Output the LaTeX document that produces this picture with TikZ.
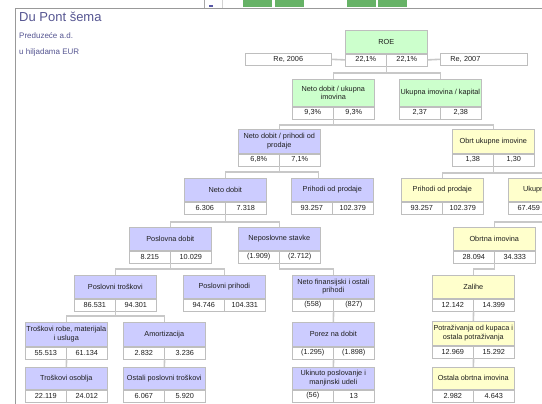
\documentclass[tikz,border=0pt]{standalone}
\usepackage{fontspec}
\setmainfont{Liberation Sans}
\definecolor{hgreen}{RGB}{204,255,204}
\definecolor{hpurple}{RGB}{204,204,255}
\definecolor{hyellow}{RGB}{255,255,204}
\definecolor{boxgray}{RGB}{190,190,190}
\definecolor{linegray}{RGB}{200,200,200}
\definecolor{txtgray}{RGB}{30,30,30}
\definecolor{titleblue}{RGB}{85,85,145}
\definecolor{topgreen}{RGB}{102,178,102}
\begin{document}
\begin{tikzpicture}[x=1pt, y=-1pt,
		hdr/.style={draw=boxgray, line width=.6pt, minimum width=82pt, minimum height=23pt, inner sep=1pt, anchor=north west, align=center, text=txtgray, font=\fontsize{7.3}{8.6}\selectfont},
		val/.style={draw=boxgray, line width=.6pt, fill=white, minimum width=41pt, minimum height=12pt, inner sep=0pt, text=txtgray, font=\fontsize{7.3}{8.6}\selectfont},
		conn/.style={draw=linegray, line width=1.6pt}]
		\useasboundingbox (0,0) rectangle (542,404);
		\clip (0,0) rectangle (542,404);
		% window
		\fill[topgreen] (243,0) rectangle (272,7.5);
		\fill[topgreen] (275,0) rectangle (304,7.5);
		\fill[topgreen] (347,0) rectangle (376,7.5);
		\fill[topgreen] (378,0) rectangle (407,7.5);
		\draw[gray!70] (204,0) -- (204,9);
		\draw[gray!35] (222,0) -- (222,9);
		\fill[blue!30!gray] (209,5) rectangle (213,7.5);
		\draw[gray!80, line width=1pt] (15,404) -- (15,9) -- (542,9);
		\node[anchor=base west, text=titleblue, font=\fontsize{13}{15}\selectfont, inner sep=0pt] (title) at (19,22) {Du Pont šema};
		\node[anchor=base west, text=titleblue, font=\fontsize{8}{9}\selectfont, inner sep=0pt] (firm) at (19,39) {Preduzeće a.d.};
		\node[anchor=base west, text=titleblue, font=\fontsize{8}{9}\selectfont, inner sep=0pt] (unit) at (19,55) {u hiljadama EUR};
		% level 1
		\node[hdr, fill=hgreen] (roe) at (345,30) {ROE};
		\node[val, anchor=north west] (roe-a) at (roe.south west) {22,1\%};
		\node[val, anchor=north east] (roe-b) at (roe.south east) {22,1\%};
		\node[val, anchor=north west, minimum width=86pt] (re06) at (245,53) {Re, 2006};
		\node[val, anchor=north west, minimum width=87pt, text width=67pt, align=left] (re07) at (440,53) {Re, 2007};
		% level 2
		\node[hdr, fill=hgreen, minimum height=27pt] (ndui) at (292,79) {Neto dobit / ukupna\\imovina};
		\node[val, anchor=north west] (ndui-a) at (ndui.south west) {9,3\%};
		\node[val, anchor=north east] (ndui-b) at (ndui.south east) {9,3\%};
		\node[hdr, fill=hgreen, minimum height=27pt] (uik) at (399,79) {Ukupna imovina / kapital};
		\node[val, anchor=north west] (uik-a) at (uik.south west) {2,37};
		\node[val, anchor=north east] (uik-b) at (uik.south east) {2,38};
		% level 3
		\node[hdr, fill=hpurple, minimum height=24pt] (ndpp) at (238,129) {Neto dobit / prihodi od\\prodaje};
		\node[val, anchor=north west] (ndpp-a) at (ndpp.south west) {6,8\%};
		\node[val, anchor=north east] (ndpp-b) at (ndpp.south east) {7,1\%};
		\node[hdr, fill=hyellow, minimum height=24pt] (oui) at (452,129) {Obrt ukupne imovine};
		\node[val, anchor=north west] (oui-a) at (oui.south west) {1,38};
		\node[val, anchor=north east] (oui-b) at (oui.south east) {1,30};
		% level 4
		\node[hdr, fill=hpurple] (nd) at (184,178) {Neto dobit};
		\node[val, anchor=north west] (nd-a) at (nd.south west) {6.306};
		\node[val, anchor=north east] (nd-b) at (nd.south east) {7.318};
		\node[hdr, fill=hpurple] (pp) at (291,178) {Prihodi od prodaje};
		\node[val, anchor=north west] (pp-a) at (pp.south west) {93.257};
		\node[val, anchor=north east] (pp-b) at (pp.south east) {102.379};
		\node[hdr, fill=hyellow] (ppy) at (401,178) {Prihodi od prodaje};
		\node[val, anchor=north west] (ppy-a) at (ppy.south west) {93.257};
		\node[val, anchor=north east] (ppy-b) at (ppy.south east) {102.379};
		\node[hdr, fill=hyellow] (ui) at (508,178) {Ukupna imovina};
		\node[val, anchor=north west] (ui-a) at (ui.south west) {67.459};
		\node[val, anchor=north east] (ui-b) at (ui.south east) {};
		% level 5
		\node[hdr, fill=hpurple] (pd) at (129,227) {Poslovna dobit};
		\node[val, anchor=north west] (pd-a) at (pd.south west) {8.215};
		\node[val, anchor=north east] (pd-b) at (pd.south east) {10.029};
		\node[hdr, fill=hpurple] (ns) at (238,227) {Neposlovne stavke};
		\node[val, anchor=north west] (ns-a) at (ns.south west) {(1.909)};
		\node[val, anchor=north east] (ns-b) at (ns.south east) {(2.712)};
		\node[hdr, fill=hyellow] (oi) at (453,227) {Obrtna imovina};
		\node[val, anchor=north west] (oi-a) at (oi.south west) {28.094};
		\node[val, anchor=north east] (oi-b) at (oi.south east) {34.333};
		% level 6
		\node[hdr, fill=hpurple] (pt) at (74,275) {Poslovni troškovi};
		\node[val, anchor=north west] (pt-a) at (pt.south west) {86.531};
		\node[val, anchor=north east] (pt-b) at (pt.south east) {94.301};
		\node[hdr, fill=hpurple] (ppr) at (183,275) {Poslovni prihodi};
		\node[val, anchor=north west] (ppr-a) at (ppr.south west) {94.746};
		\node[val, anchor=north east] (ppr-b) at (ppr.south east) {104.331};
		\node[hdr, fill=hpurple] (nfop) at (292,275) {Neto finansijski i ostali\\prihodi};
		\node[val, anchor=north west] (nfop-a) at (nfop.south west) {(558)};
		\node[val, anchor=north east] (nfop-b) at (nfop.south east) {(827)};
		\node[hdr, fill=hyellow] (zal) at (432,275) {Zalihe};
		\node[val, anchor=north west] (zal-a) at (zal.south west) {12.142};
		\node[val, anchor=north east] (zal-b) at (zal.south east) {14.399};
		% level 7
		\node[hdr, fill=hpurple, minimum height=24pt] (trm) at (25,322) {Troškovi robe, materijala\\i usluga};
		\node[val, anchor=north west] (trm-a) at (trm.south west) {55.513};
		\node[val, anchor=north east] (trm-b) at (trm.south east) {61.134};
		\node[hdr, fill=hpurple, minimum height=24pt] (amo) at (123,322) {Amortizacija};
		\node[val, anchor=north west] (amo-a) at (amo.south west) {2.832};
		\node[val, anchor=north east] (amo-b) at (amo.south east) {3.236};
		\node[hdr, fill=hpurple, minimum height=24pt] (por) at (292,322) {Porez na dobit};
		\node[val, anchor=north west] (por-a) at (por.south west) {(1.295)};
		\node[val, anchor=north east] (por-b) at (por.south east) {(1.898)};
		\node[hdr, fill=hyellow, minimum height=24pt] (pot) at (432,321) {Potraživanja od kupaca i\\ostala potraživanja};
		\node[val, anchor=north west] (pot-a) at (pot.south west) {12.969};
		\node[val, anchor=north east] (pot-b) at (pot.south east) {15.292};
		% level 8
		\node[hdr, fill=hpurple, minimum height=22pt] (tos) at (25,367) {Troškovi osoblja};
		\node[val, anchor=north west] (tos-a) at (tos.south west) {22.119};
		\node[val, anchor=north east] (tos-b) at (tos.south east) {24.012};
		\node[hdr, fill=hpurple, minimum height=22pt] (opt) at (123,367) {Ostali poslovni troškovi};
		\node[val, anchor=north west] (opt-a) at (opt.south west) {6.067};
		\node[val, anchor=north east] (opt-b) at (opt.south east) {5.920};
		\node[hdr, fill=hpurple, minimum height=22pt] (uki) at (292,367) {Ukinuto poslovanje i\\manjinski udeli};
		\node[val, anchor=north west] (uki-a) at (uki.south west) {(56)};
		\node[val, anchor=north east] (uki-b) at (uki.south east) {13};
		\node[hdr, fill=hyellow, minimum height=22pt] (oob) at (432,367) {Ostala obrtna imovina};
		\node[val, anchor=north west] (oob-a) at (oob.south west) {2.982};
		\node[val, anchor=north east] (oob-b) at (oob.south east) {4.643};
		% connectors
		\draw[conn] (re06.east) -- (roe-a.west);
		\draw[conn] (roe-b.east) -- (re07.west);
		\draw[conn] (roe-a.south east) -- ++(0,7) -| (ndui.north);
		\draw[conn] (roe-a.south east) -- ++(0,7) -| (uik.north);
		\draw[conn] (ndui-a.south east) -- ++(0,6) -| (ndpp.north);
		\draw[conn] (ndui-a.south east) -- ++(0,6) -| (oui.north);
		\draw[conn] (ndpp-a.south east) -- ++(0,6) -| (nd.north);
		\draw[conn] (ndpp-a.south east) -- ++(0,6) -| ([xshift=-14pt]pp.north);
		\draw[conn] (oui-a.south east) -- ++(0,7) -| (ppy.north);
		\draw[conn] (oui-a.south east) -- ++(0,7) -| (ui.north);
		\draw[conn] (nd-a.south east) -- ++(0,8) -| (pd.north);
		\draw[conn] (nd-a.south east) -- ++(0,8) -| (ns.north);
		\draw[conn] (ui-a.south east) -- ++(0,8) -| (oi.north);
		\draw[conn] (pd-a.south east) -- ++(0,6) -| (pt.north);
		\draw[conn] (pd-a.south east) -- ++(0,6) -| (ppr.north);
		\draw[conn] (ns-a.south east) -- ++(0,6) -| (nfop.north);
		\draw[conn] (oi-a.south east) -- ++(0,6) -| (zal.north);
		\draw[conn] (pt-a.south east) -- ++(0,5) -| (trm.north);
		\draw[conn] (pt-a.south east) -- ++(0,5) -| (amo.north);
		\draw[conn] (trm-a.south east) -- (tos.north);
		\draw[conn] (amo-a.south east) -- (opt.north);
		\draw[conn] (nfop-a.south east) -- (por.north);
		\draw[conn] (por-a.south east) -- (uki.north);
		\draw[conn] (zal-a.south east) -- (pot.north);
		\draw[conn] (pot-a.south east) -- (oob.north);
	\end{tikzpicture}
\end{document}
